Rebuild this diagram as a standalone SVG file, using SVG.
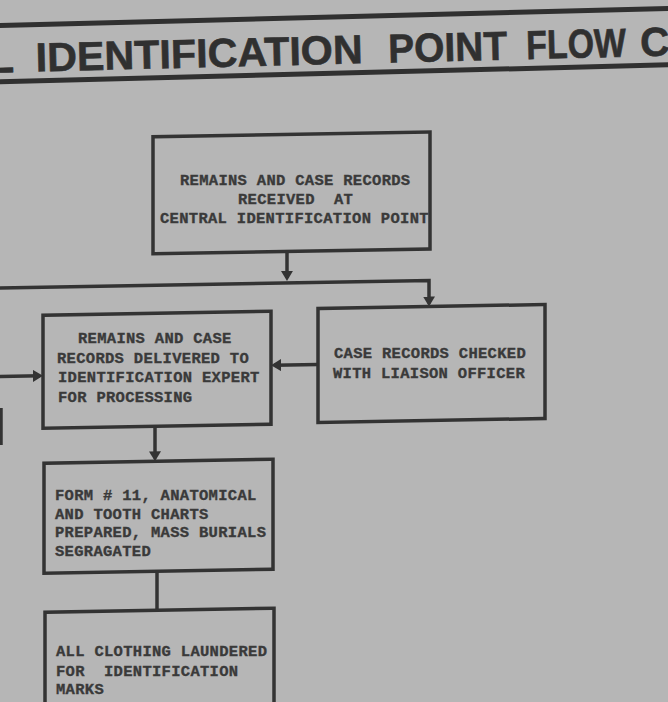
<svg xmlns="http://www.w3.org/2000/svg" width="668" height="702" viewBox="0 0 668 702">
<defs>
<marker id="ah" viewBox="0 0 10 12" refX="7" refY="6" markerWidth="10" markerHeight="12" markerUnits="userSpaceOnUse" orient="auto"><path d="M0,0 L10,6 L0,12 z" fill="#333333"/></marker>
</defs>
<style>
.box{fill:none;stroke:#333333;stroke-width:3.5}
.con{fill:none;stroke:#333333;stroke-width:3.5}
.rule{stroke:#303030;stroke-width:5}
.t{font-family:"Liberation Mono","Courier New",monospace;font-weight:bold;font-size:15.5px;letter-spacing:0.3px;fill:#3a3a3a;stroke:#3a3a3a;stroke-width:0.35}
.title{font-family:"Liberation Sans",Arial,sans-serif;font-weight:bold;font-size:40.5px;fill:#303030;stroke:#303030;stroke-width:0.6}
</style>
<rect width="668" height="702" fill="#b6b6b6"/>
<g id="title" transform="rotate(-1.45 334 45)">
<line class="rule" x1="-20" y1="17" x2="700" y2="17"/>
<line class="rule" x1="-20" y1="73.3" x2="700" y2="73.3"/>
<text class="title" x="-11" y="64">L</text>
<text class="title" x="35.5" y="64" textLength="327" lengthAdjust="spacingAndGlyphs">IDENTIFICATION</text>
<text class="title" x="388" y="64" textLength="119" lengthAdjust="spacingAndGlyphs">POINT</text>
<text class="title" x="526" y="64" textLength="100" lengthAdjust="spacingAndGlyphs">FLOW</text>
<text class="title" x="640" y="64">C</text>
</g>
<g id="connectors" transform="skewY(-1)">
<path class="con" d="M287,256.5 V283" marker-end="url(#ah)"/>
<path class="con" d="M-10,288 H429 V311" marker-end="url(#ah)"/>
<path class="con" d="M318,370 H274" marker-end="url(#ah)"/>
<path class="con" d="M-10,376.5 H40" marker-end="url(#ah)"/>
<path class="con" d="M1,408 V445"/>
<path class="con" d="M155,429 V461" marker-end="url(#ah)"/>
<path class="con" d="M157,574 V613"/>
</g>
<g id="received">
<rect class="box" x="153" y="139.5" width="277" height="117" transform="skewY(-1)"/>
<text class="t" x="180" y="184.9">REMAINS AND CASE RECORDS</text>
<text class="t" x="238" y="203.9" xml:space="preserve">RECEIVED  AT</text>
<text class="t" x="160" y="222.9">CENTRAL IDENTIFICATION POINT</text>
</g>
<g id="delivered">
<rect class="box" x="43" y="316" width="228" height="113" transform="skewY(-1)"/>
<text class="t" x="78" y="342.8">REMAINS AND CASE</text>
<text class="t" x="57" y="362.6">RECORDS DELIVERED TO</text>
<text class="t" x="58" y="382.3">IDENTIFICATION EXPERT</text>
<text class="t" x="58" y="401.8">FOR PROCESSING</text>
</g>
<g id="checked">
<rect class="box" x="318" y="314" width="227" height="114" transform="skewY(-1)"/>
<text class="t" x="334" y="357.8">CASE RECORDS CHECKED</text>
<text class="t" x="333" y="377.5">WITH LIAISON OFFICER</text>
</g>
<g id="form11">
<rect class="box" x="44" y="464" width="229" height="110" transform="skewY(-1)"/>
<text class="t" x="55" y="500">FORM # 11, ANATOMICAL</text>
<text class="t" x="55" y="518.6">AND TOOTH CHARTS</text>
<text class="t" x="55" y="537.4">PREPARED, MASS BURIALS</text>
<text class="t" x="55" y="556.2">SEGRAGATED</text>
</g>
<g id="clothing">
<rect class="box" x="45" y="613" width="229" height="120" transform="skewY(-1)"/>
<text class="t" x="56" y="655.8">ALL CLOTHING LAUNDERED</text>
<text class="t" x="56" y="675.8" xml:space="preserve">FOR  IDENTIFICATION</text>
<text class="t" x="56" y="693.8">MARKS</text>
</g>
</svg>
